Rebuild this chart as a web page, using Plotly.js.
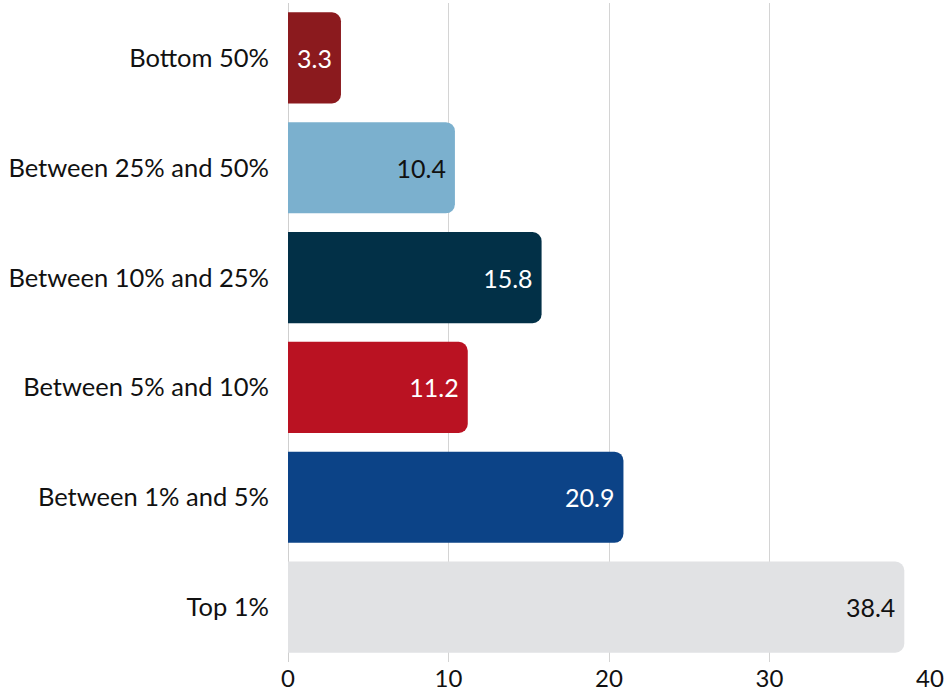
<!DOCTYPE html>
<html>
<head>
<meta charset="utf-8">
<script src="https://cdn.plot.ly/plotly-3.0.1.min.js"></script>
<style>html,body{margin:0;padding:0;background:#fff;}#chart{width:947px;height:692px;}</style>
</head>
<body>
<div id="chart"></div>
<script>
const categories = ["Bottom 50%", "Between 25% and 50%", "Between 10% and 25%", "Between 5% and 10%", "Between 1% and 5%", "Top 1%"];
const values = [3.3, 10.4, 15.8, 11.2, 20.9, 38.4];
const barColors = ["#8B1A1E", "#7BB0CE", "#023047", "#BA1222", "#0C4387", "#E1E2E4"];
const labelColors = ["#ffffff", "#111111", "#ffffff", "#ffffff", "#ffffff", "#111111"];
const xTicks = [0, 10, 20, 30, 40];

const trace = {
  type: "bar",
  orientation: "h",
  y: categories,
  x: values,
  marker: { color: barColors, cornerradius: 9 },
  text: values.map(v => v.toFixed(1)),
  textposition: "inside",
  insidetextanchor: "end",
  textangle: 0,
  constraintext: "none",
  textfont: { family: "Lato", size: 25, color: labelColors },
  hoverinfo: "skip"
};

const layout = {
  width: 947, height: 692,
  margin: { l: 288, r: 17, t: 3, b: 30 },
  paper_bgcolor: "#fff", plot_bgcolor: "#fff",
  bargap: 0.17,
  showlegend: false,
  font: { family: "Lato", size: 25, color: "#111" },
  xaxis: {
    range: [0, 40], tickvals: xTicks, ticktext: xTicks.map(String),
    showgrid: true, gridcolor: "#d4d4d4", gridwidth: 1,
    zeroline: true, zerolinecolor: "#cfcfcf", zerolinewidth: 1,
    showline: false, ticks: "", tickfont: { family: "Lato", size: 24, color: "#111" },
    fixedrange: true
  },
  yaxis: {
    autorange: "reversed", showgrid: false, zeroline: false,
    showline: false, ticks: "", ticklabelstandoff: 18,
    tickfont: { family: "Lato", size: 25.5, color: "#111" },
    fixedrange: true
  }
};

Plotly.newPlot("chart", [trace], layout, { displayModeBar: false, staticPlot: true });
</script>
</body>
</html>
